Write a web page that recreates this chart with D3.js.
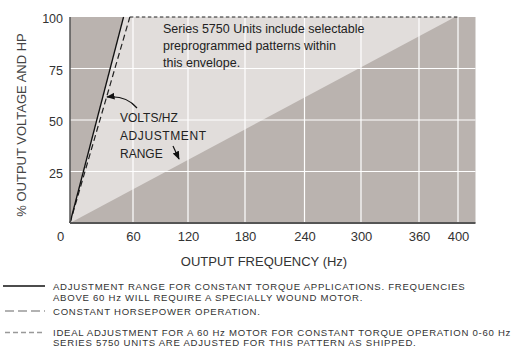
<!DOCTYPE html>
<html><head><meta charset="utf-8">
<script src="https://cdn.jsdelivr.net/npm/d3@7/dist/d3.min.js"></script>
<style>body{margin:0;background:#fff}svg{display:block;font-family:"Liberation Sans",Arial,sans-serif}</style>
</head><body><svg id="c" width="514" height="356"></svg>
<script>
// tick values
const xTicks = [0, 60, 120, 180, 240, 300, 360, 400];
const yTicks = [0, 25, 50, 75, 100];
const yGrid = [25, 50, 75];
// series (Hz, % output)
const solidLine = [[0, 0], [51, 100]];           // adjustment range constant torque
const idealLine = [[0, 0], [57, 100]];           // ideal 60 Hz motor
const hpLine = [[57, 100], [400, 100]];          // constant horsepower
const envelope = [[0, 0], [51, 100], [397, 100]]; // selectable envelope
const legendItems = [
  {lines: ["ADJUSTMENT RANGE FOR CONSTANT TORQUE APPLICATIONS. FREQUENCIES", "ABOVE 60 Hz WILL REQUIRE A SPECIALLY WOUND MOTOR."], style: "solid"},
  {lines: ["CONSTANT HORSEPOWER OPERATION."], style: "long"},
  {lines: ["IDEAL ADJUSTMENT FOR A 60 Hz MOTOR FOR CONSTANT TORQUE OPERATION 0-60 Hz", "SERIES 5750 UNITS ARE ADJUSTED FOR THIS PATTERN AS SHIPPED."], style: "short"}
];
const noteLines = ["Series 5750 Units include selectable", "preprogrammed patterns within", "this envelope."];
const rangeLabel = ["VOLTS/HZ", "ADJUSTMENT", "RANGE"];

const svg = d3.select("#c");
const x = d3.scaleLinear().domain([0, 60, 120, 180, 240, 300, 360, 400, 418])
  .range([70, 133, 188, 245, 304.5, 361, 419, 458, 475.5]);
const y = d3.scaleLinear().domain([0, 100]).range([223, 17]);
const xMax = 418;

const dark = "#bab3af", light = "#e1dddb";
// background
svg.append("rect").attr("x", x(0)).attr("y", y(100)).attr("width", x(xMax) - x(0)).attr("height", y(0) - y(100)).attr("fill", dark);
svg.append("path").datum(envelope).attr("fill", light)
  .attr("d", d3.line().x(d => x(d[0])).y(d => y(d[1])).curve(d3.curveLinearClosed));
// grid
svg.append("g").selectAll("line").data(xTicks.filter(d => d > 0)).join("line")
  .attr("x1", d => x(d)).attr("x2", d => x(d)).attr("y1", y(100)).attr("y2", y(0))
  .attr("stroke", "#fff").attr("stroke-width", 1.2);
svg.append("g").selectAll("line").data(yGrid).join("line")
  .attr("x1", x(0)).attr("x2", x(xMax)).attr("y1", d => y(d)).attr("y2", d => y(d))
  .attr("stroke", "#fff").attr("stroke-width", 1.2);

const line = d3.line().x(d => x(d[0])).y(d => y(d[1]));
svg.append("path").datum(hpLine).attr("d", line).attr("fill", "none").attr("stroke", "#222").attr("stroke-width", 1.2).attr("stroke-dasharray", "3.5,2.5");
svg.append("path").datum(idealLine).attr("d", line).attr("fill", "none").attr("stroke", "#222").attr("stroke-width", 1.2).attr("stroke-dasharray", "6,3.5");
svg.append("path").datum(solidLine).attr("d", line).attr("fill", "none").attr("stroke", "#111").attr("stroke-width", 1.3);

// axes
const xAxis = svg.append("g").attr("transform", `translate(0,${y(0)})`)
  .call(d3.axisBottom(x).tickValues(xTicks).tickSize(0).tickPadding(9));
xAxis.select(".domain").attr("d", `M${x(0)},0H${x(xMax)}`).attr("stroke", "#555").attr("stroke-width", 2);
xAxis.selectAll("text").attr("font-size", 13).attr("fill", "#333").attr("font-family", "Liberation Sans, Arial")
  .attr("dx", d => d === 0 ? -10 : 0);
const yAxis = svg.append("g").attr("transform", `translate(${x(0)},0)`)
  .call(d3.axisLeft(y).tickValues(yTicks.filter(d => d > 0)).tickSize(0).tickPadding(7));
yAxis.select(".domain").attr("d", `M0,${y(100)}V${y(0)}`).attr("stroke", "#555").attr("stroke-width", 1.5);
yAxis.selectAll("text").attr("font-size", 12.5).attr("fill", "#333").attr("font-family", "Liberation Sans, Arial").attr("dy", "0.45em");

svg.append("text").attr("x", 264).attr("y", 266).attr("text-anchor", "middle").attr("font-size", 13).attr("fill", "#333").text("OUTPUT FREQUENCY (Hz)");
svg.append("text").attr("transform", "translate(26,125) rotate(-90)").attr("text-anchor", "middle").attr("font-size", 13).attr("fill", "#444").text("% OUTPUT VOLTAGE AND HP");

// note
svg.append("g").selectAll("text").data(noteLines).join("text")
  .attr("x", 163).attr("y", (d, i) => 33 + i * 17).attr("font-size", 12.5).attr("fill", "#222").text(d => d);
// range label
svg.append("g").selectAll("text").data(rangeLabel).join("text")
  .attr("x", 120).attr("y", (d, i) => [122, 139.5, 157.5][i]).attr("font-size", 12).attr("fill", "#222")
  .attr("letter-spacing", (d, i) => i === 1 ? 0.6 : 0).text(d => d);
// arrows
const defs = svg.append("defs");
defs.append("marker").attr("id", "ah").attr("viewBox", "0 0 10 10").attr("refX", 9).attr("refY", 5)
  .attr("markerWidth", 7).attr("markerHeight", 7).attr("orient", "auto")
  .append("path").attr("d", "M0,1L10,5L0,9Z").attr("fill", "#111");
svg.append("path").attr("d", "M137,108 Q126,95 107,97").attr("fill", "none").attr("stroke", "#111").attr("stroke-width", 1.2).attr("marker-end", "url(#ah)");
svg.append("path").attr("d", "M173,146 L179,159").attr("fill", "none").attr("stroke", "#111").attr("stroke-width", 1.2).attr("marker-end", "url(#ah)");

// legend
const rowY = [[290, 300.5], [314.5], [336, 346]];
const lineY = [286, 311, 332.5];
legendItems.forEach((it, i) => {
  const g = svg.append("g");
  const ln = g.append("line").attr("x1", it.style === "solid" ? 3 : 5).attr("x2", 45).attr("y1", lineY[i]).attr("y2", lineY[i]);
  if (it.style === "solid") ln.attr("stroke", "#111").attr("stroke-width", 1.3);
  else if (it.style === "long") ln.attr("stroke", "#999").attr("stroke-width", 1.3).attr("stroke-dasharray", "9,4");
  else ln.attr("stroke", "#999").attr("stroke-width", 1.3).attr("stroke-dasharray", "5,3");
  it.lines.forEach((t, j) => {
    g.append("text").attr("x", 53).attr("y", rowY[i][j]).attr("font-size", 9.6).attr("fill", "#333")
      .attr("letter-spacing", 0.72).text(t);
  });
});
</script></body></html>
